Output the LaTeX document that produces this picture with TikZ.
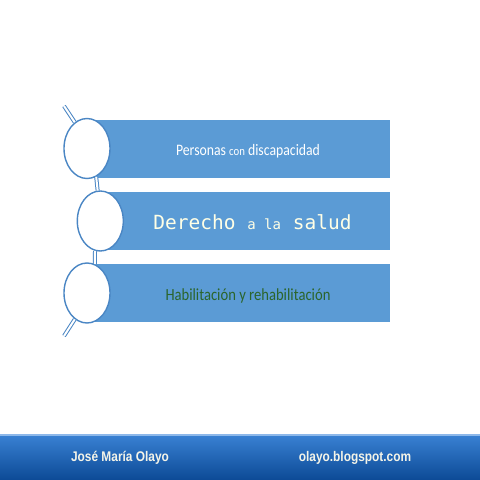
\documentclass[tikz,border=0pt]{standalone}
\usepackage{fontspec}
\setmainfont[FakeStretch=0.86]{Carlito}
\newfontfamily\monof{DejaVu Sans Mono}
\newfontfamily\footf[FakeStretch=0.85]{Liberation Sans}
\usetikzlibrary{shapes.geometric}
\definecolor{barblue}{HTML}{5B9BD5}
\definecolor{ringblue}{HTML}{4A86C4}
\definecolor{textyel}{HTML}{FFFFE6}
\definecolor{darkgreen}{HTML}{2B652B}
\definecolor{foottop}{HTML}{3A82D4}
\definecolor{footbot}{HTML}{0C4A96}
\definecolor{footline}{HTML}{8DB8EA}
\definecolor{foottext}{HTML}{F4F4E8}
\begin{document}
\begin{tikzpicture}[x=1pt,y=-1pt,
  bar/.style={fill=barblue,draw=none},
  ring/.style={ellipse,draw=ringblue,fill=white,line width=1.4pt,minimum width=46pt,minimum height=60pt,inner sep=0pt},
  link/.style={draw=ringblue,double=white,double distance=2pt,line width=1pt},
  foottxt/.style={text=foottext,font=\footf\bfseries\fontsize{14}{16}\selectfont}]
\useasboundingbox[fill=white] (0,0) rectangle (480,480);
% bars
\fill[bar] (87,120) rectangle (390,178);
\fill[bar] (100,192) rectangle (390,250);
\fill[bar] (87,264) rectangle (390,322);
% rings
\node[ring] (c1) at (87,148.5) {};
\node[ring] (c2) at (100.3,221) {};
\node[ring] (c3) at (87,293) {};
\coordinate (s1) at (64,106);
\coordinate (s2) at (64,336);
% links
\draw[link] (s1) -- (c1.115);
\draw[link] (c1.-72) -- (c2.95);
\draw[link] (c2.-100) -- (c3.75);
\draw[link] (c3.-115) -- (s2);
% texts
\node[text=white,inner sep=0pt] (t1) at (248,151) {\fontsize{16}{18}\selectfont Personas {\fontsize{12.5}{14}\selectfont con} discapacidad};
\node[text=textyel,inner sep=0pt] (t2) at (252.5,222) {\monof\fontsize{19.5}{22}\selectfont Derecho {\fontsize{14}{16}\selectfont a la} salud};
\node[text=darkgreen,inner sep=0pt] (t3) at (248,296) {\fontsize{17}{19}\selectfont Habilitación y rehabilitación};
% footer
\shade[top color=foottop,bottom color=footbot] (0,434) rectangle (480,480);
\fill[footline] (0,433.5) rectangle (480,435.5);
\node[foottxt] (f1) at (120,458) {José María Olayo};
\node[foottxt] (f2) at (355,458) {olayo.blogspot.com};
\end{tikzpicture}
\end{document}
